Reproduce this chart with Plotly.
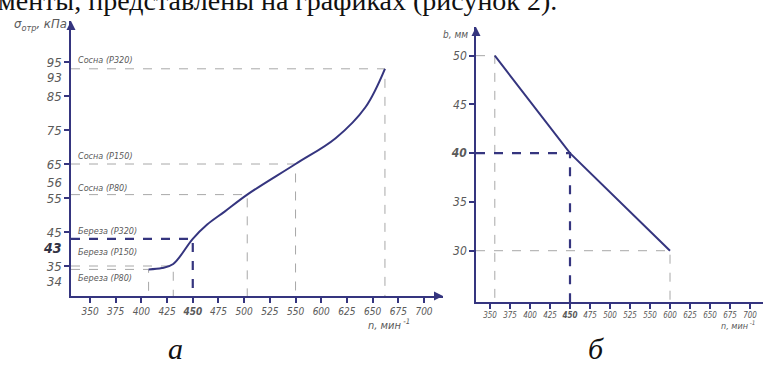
import numpy as np
import plotly.graph_objects as go

# ---------------- data ----------------
# printed x tick labels (note: 575 is absent on the drawing, ticks are evenly spaced)
n_tick_labels = [350, 375, 400, 425, 450, 475, 500, 525, 550, 600, 625, 650, 675, 700]

# chart (a): sigma_otr vs n
curve_n = [407, 420, 431, 450, 464, 481, 503, 550, 614, 643, 662]
curve_sigma = [34, 34.4, 35.6, 43, 47.2, 51, 56, 65, 72.6, 81.7, 93]
level_n = [407, 431, 450, 503, 550, 662]
level_sigma = [34, 35, 43, 56, 65, 93]
level_names = ["Береза (P80)", "Береза (P150)", "Береза (P320)",
               "Сосна (P80)", "Сосна (P150)", "Сосна (P320)"]
sigma_major_ticks = [35, 45, 55, 65, 75, 85, 95]

# chart (b): b vs n
b_n = [356, 450, 600]
b_mm = [50, 40, 30]
b_ticks = [30, 35, 40, 45, 50]

# -------------- helpers ---------------
tick_pos = [350 + 25 * i for i in range(len(n_tick_labels))]


def xpos(n):
    """map printed n value onto the drawing's (evenly spaced) tick scale"""
    return np.interp(n, n_tick_labels, tick_pos)


NAVY = "#35357f"
GRAY = "#a8a8a8"
TXT = "#5a5a5a"
FONT = "DejaVu Sans Condensed, Liberation Sans Narrow, sans-serif"
W, H = 763, 372

xa_range = [331.5, 693.5]
ya_range = [26.18, 107.06]
xb_range = [332.5, 691.25]
yb_range = [24.74, 52.94]

fig = go.Figure()

# ---- chart a reference lines
for n, s in zip(level_n, level_sigma):
    hl = s == 43
    col = NAVY if hl else GRAY
    wd = 2.2 if hl else 1
    fig.add_trace(go.Scatter(x=[xa_range[0], xpos(n), xpos(n)], y=[s, s, ya_range[0]],
                             mode="lines", line=dict(color=col, width=wd, dash="dash"),
                             xaxis="x", yaxis="y", hoverinfo="skip", showlegend=False))

fig.add_trace(go.Scatter(x=xpos(np.array(curve_n)), y=curve_sigma, mode="lines",
                         line=dict(color=NAVY, width=2, shape="spline", smoothing=1.0),
                         xaxis="x", yaxis="y", showlegend=False))

# ---- chart b reference lines
for n, v in zip(b_n, b_mm):
    hl = v == 40
    col = NAVY if hl else GRAY
    wd = 2.2 if hl else 1
    fig.add_trace(go.Scatter(x=[xb_range[0], xpos(n), xpos(n)], y=[v, v, yb_range[0]],
                             mode="lines", line=dict(color=col, width=wd, dash="dash"),
                             xaxis="x2", yaxis="y2", hoverinfo="skip", showlegend=False))

fig.add_trace(go.Scatter(x=xpos(np.array(b_n)), y=b_mm, mode="lines",
                         line=dict(color=NAVY, width=2),
                         xaxis="x2", yaxis="y2", showlegend=False))

# ---- axis arrowheads (at the axis range ends)
for xr, yr, xv, yv, sym in [("x", "y", xa_range[0], ya_range[1], "arrow-up"),
                            ("x", "y", xa_range[1], ya_range[0], "arrow-right"),
                            ("x2", "y2", xb_range[0], yb_range[1], "arrow-up")]:
    fig.add_trace(go.Scatter(x=[xv], y=[yv], mode="markers", cliponaxis=False,
                             marker=dict(symbol=sym, size=9, color=NAVY,
                                         line=dict(width=0)),
                             xaxis=xr, yaxis=yr, hoverinfo="skip", showlegend=False))

x_ticktext = [f"<b><i>{v}</i></b>" if v == 450 else f"<i>{v}</i>" for v in n_tick_labels]

axis_common = dict(showline=True, linecolor=NAVY, linewidth=1.6, showgrid=False,
                   zeroline=False, ticks="outside", ticklen=5, tickcolor=NAVY, tickwidth=1.5)

fig.update_layout(
    width=W, height=H, autosize=False,
    margin=dict(l=0, r=0, t=0, b=0),
    paper_bgcolor="white", plot_bgcolor="white",
    xaxis=dict(domain=[71 / W, 443 / W], range=xa_range, anchor="y",
               tickvals=tick_pos, ticktext=x_ticktext,
               tickfont=dict(family=FONT, size=10, color=TXT), **axis_common),
    yaxis=dict(domain=[1 - 296 / H, 1 - 21 / H], range=ya_range, anchor="x",
               tickvals=sigma_major_ticks,
               ticktext=[f"<i>{v}</i>" for v in sigma_major_ticks],
               tickfont=dict(family=FONT, size=13, color=TXT), **axis_common),
    xaxis2=dict(domain=[476 / W, 1.0], range=xb_range, anchor="y2",
                tickvals=tick_pos, ticktext=x_ticktext,
                tickfont=dict(family=FONT, size=8, color=TXT), **axis_common),
    yaxis2=dict(domain=[1 - 302 / H, 1 - 27 / H], range=yb_range, anchor="x2",
                tickvals=b_ticks,
                ticktext=[f"<b><i>{v}</i></b>" if v == 40 else f"<i>{v}</i>" for v in b_ticks],
                tickfont=dict(family=FONT, size=12, color=TXT), **axis_common),
)

ann = []
# extra y labels at the reference levels (chart a)
extra_shift = {34: -12, 43: -9, 56: 12, 93: -9}
for s in level_sigma:
    if s in extra_shift:
        bold = s == 43
        ann.append(dict(xref="x", yref="y", x=xa_range[0], y=s, xanchor="right", yanchor="middle",
                        xshift=-7, yshift=extra_shift[s], showarrow=False,
                        text=f"<b><i>{s}</i></b>" if bold else f"<i>{s}</i>",
                        font=dict(family=FONT, size=14 if bold else 13,
                                  color="#333344" if bold else TXT)))

# level names (chart a)
name_shift = {34: (-2, "top"), 35: (7, "bottom"), 43: (1, "bottom"), 56: (0, "bottom"),
              65: (1, "bottom"), 93: (2, "bottom")}
for s, name in zip(level_sigma, level_names):
    ys, anc = name_shift[s]
    ann.append(dict(xref="x", yref="y", x=xa_range[0], y=s, xanchor="left", yanchor=anc,
                    xshift=5, yshift=ys, showarrow=False, text=f"<i>{name}</i>",
                    font=dict(family=FONT, size=9, color=TXT)))

# axis titles
ann += [
    dict(xref="paper", yref="paper", x=12 / W, y=1 - 25 / H, xanchor="left", yanchor="middle",
         showarrow=False, text="<i>σ<sub>отр</sub>, кПа</i>",
         font=dict(family=FONT, size=13, color=TXT)),
    dict(xref="paper", yref="paper", x=412 / W, y=1 - 324 / H, xanchor="right", yanchor="middle",
         showarrow=False, text="<i>n, мин<sup> -1</sup></i>",
         font=dict(family=FONT, size=11, color=TXT)),
    dict(xref="paper", yref="paper", x=441 / W, y=1 - 34 / H, xanchor="left", yanchor="middle",
         showarrow=False, text="<i>b, мм</i>",
         font=dict(family=FONT, size=10, color=TXT)),
    dict(xref="paper", yref="paper", x=757 / W, y=1 - 325 / H, xanchor="right", yanchor="middle",
         showarrow=False, text="<i>n, мин<sup> -1</sup></i>",
         font=dict(family=FONT, size=9, color=TXT)),
    # captions
    dict(xref="paper", yref="paper", x=175 / W, y=1 - 348 / H, xanchor="center", yanchor="middle",
         showarrow=False, text="<i>а</i>",
         font=dict(family="Liberation Serif, serif", size=30, color="#111")),
    dict(xref="paper", yref="paper", x=596 / W, y=1 - 348 / H, xanchor="center", yanchor="middle",
         showarrow=False, text="<i>б</i>",
         font=dict(family="Liberation Serif, serif", size=30, color="#111")),
    # cut-off body text at the top
    dict(xref="paper", yref="paper", x=0, y=1 - 18 / H, xanchor="left", yanchor="bottom",
         xshift=-4, showarrow=False, text="менты, представлены на графиках (рисунок 2).",
         font=dict(family="Liberation Serif, serif", size=28, color="#111")),
]

fig.update_layout(annotations=ann)
fig.write_html("out.html", config={"displayModeBar": False},
               post_script="document.body.style.margin='0';document.body.style.overflow='hidden';")
